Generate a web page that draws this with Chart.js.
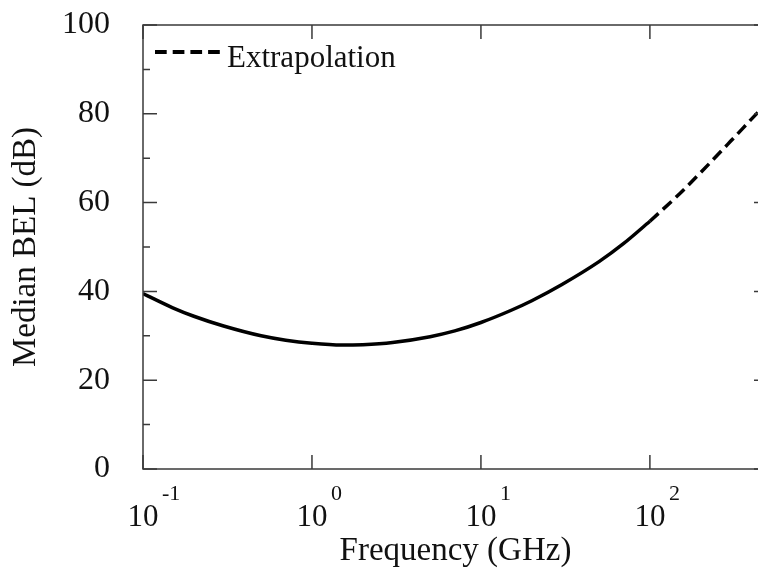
<!DOCTYPE html>
<html>
<head>
<meta charset="utf-8">
<script src="https://cdn.jsdelivr.net/npm/chart.js@4.4.1/dist/chart.umd.min.js"></script>
<style>
  html, body { margin: 0; padding: 0; background: #fff; overflow: hidden; }
  #wrap { width: 758px; height: 573px; overflow: hidden; }
</style>
</head>
<body>
<div id="wrap"><canvas id="bel-chart" width="770" height="573"></canvas></div>
<script>

// measured median BEL (solid part)
const freqMeasured = [0.1, 0.15, 0.2, 0.3, 0.5, 0.7, 1, 1.5, 2, 3, 5, 7, 10, 15, 20, 30, 50, 70, 100];
const belMeasured  = [39.5, 36.3, 34.4, 32.2, 30.0, 29.0, 28.3, 27.9, 28.0, 28.5, 29.8, 31.1, 33.0, 35.7, 37.9, 41.5, 46.7, 50.8, 55.8];

// extrapolated part (dashed)
const freqExtrap = [100, 150, 200, 300, 430, 500];
const belExtrap  = [55.8, 62.0, 66.8, 73.8, 80.1, 82.7];

// axis ticks
const xDecades = [0.1, 1, 10, 100];
const xExponents = ['-1', '0', '1', '2'];
const yTickValues = [0, 10, 20, 30, 40, 50, 60, 70, 80, 90, 100];
const yLabelValues = [0, 20, 40, 60, 80, 100];

const serif = '"Liberation Serif", "Times New Roman", serif';

function toPoints(xs, ys) {
    let pts = [];
    for (let i = 0; i < xs.length; ++i) {
        pts.push({x: xs[i], y: ys[i]});
    }
    return pts;
}

// box frame, inward ticks, 10^n labels and the in-plot legend
const frameAndTicks = {
    id: 'frameAndTicks',
    afterDraw(chart) {
        const ctx = chart.ctx;
        const {left, right, top, bottom} = chart.chartArea;
        const xs = chart.scales.x;
        const ys = chart.scales.y;

        ctx.save();
        ctx.strokeStyle = '#3a3a3a';
        ctx.lineWidth = 1.5;
        ctx.strokeRect(left, top, right - left, bottom - top);

        ctx.beginPath();
        xDecades.forEach(v => {
            const px = xs.getPixelForValue(v);
            ctx.moveTo(px, bottom);
            ctx.lineTo(px, bottom - 14);
            ctx.moveTo(px, top);
            ctx.lineTo(px, top + 14);
        });
        yTickValues.forEach(v => {
            const py = ys.getPixelForValue(v);
            const len = yLabelValues.includes(v) ? 14 : 7;
            ctx.moveTo(left, py);
            ctx.lineTo(left + len, py);
            ctx.moveTo(right, py);
            ctx.lineTo(right - len, py);
        });
        ctx.stroke();

        ctx.fillStyle = '#111';
        ctx.textBaseline = 'alphabetic';
        xDecades.forEach((v, i) => {
            const px = xs.getPixelForValue(v);
            ctx.font = '31px ' + serif;
            ctx.textAlign = 'center';
            ctx.fillText('10', px, bottom + 57);
            ctx.font = '22px ' + serif;
            ctx.textAlign = 'left';
            ctx.fillText(xExponents[i], px + 19, bottom + 31);
        });

        const ext = chart.data.datasets[1];
        ctx.strokeStyle = ext.borderColor;
        ctx.lineWidth = 4;
        ctx.setLineDash(ext.borderDash);
        ctx.beginPath();
        ctx.moveTo(left + 12, top + 27);
        ctx.lineTo(left + 77, top + 27);
        ctx.stroke();
        ctx.setLineDash([]);
        ctx.font = '31px ' + serif;
        ctx.textAlign = 'left';
        ctx.fillText(ext.label, left + 84, top + 42);
        ctx.restore();
    }
};

const data = {
    datasets: [
        {
            label: 'Median BEL',
            data: toPoints(freqMeasured, belMeasured),
            borderColor: '#000',
            borderWidth: 3.5,
            pointRadius: 0,
            cubicInterpolationMode: 'monotone',
        },
        {
            label: 'Extrapolation',
            data: toPoints(freqExtrap, belExtrap),
            borderColor: '#000',
            borderWidth: 3.5,
            borderDash: [11.7, 6],
            pointRadius: 0,
            cubicInterpolationMode: 'monotone',
        }
    ]
};

const config = {
    type: 'line',
    data: data,
    plugins: [frameAndTicks],
    options: {
        responsive: false,
        animation: false,
        layout: {
            padding: {top: 25, right: 2, left: 0, bottom: 0}
        },
        plugins: {
            legend: {display: false},
            tooltip: {enabled: false}
        },
        scales: {
            x: {
                type: 'logarithmic',
                min: 0.1,
                max: 500,
                grid: {display: false},
                border: {display: false},
                ticks: {display: false},
                afterBuildTicks: scale => {
                    scale.ticks = xDecades.map(v => ({value: v}));
                },
                afterFit: scale => {
                    scale.height = 104;
                    scale.paddingLeft = 0;
                    scale.paddingRight = 0;
                },
                title: {
                    display: true,
                    text: 'Frequency (GHz)',
                    color: '#111',
                    font: {family: serif, size: 33, lineHeight: 1},
                    padding: {top: 0, bottom: 5}
                }
            },
            y: {
                min: 0,
                max: 100,
                grid: {display: false, drawTicks: false},
                border: {display: false},
                afterBuildTicks: scale => {
                    scale.ticks = yTickValues.map(v => ({value: v}));
                },
                afterFit: scale => {
                    scale.width = 143;
                    scale.paddingTop = 0;
                    scale.paddingBottom = 0;
                },
                ticks: {
                    padding: 33,
                    color: '#111',
                    font: {family: serif, size: 32},
                    callback: v => yLabelValues.includes(v) ? String(v) : ''
                },
                title: {
                    display: true,
                    text: 'Median BEL (dB)',
                    color: '#111',
                    font: {family: serif, size: 33, lineHeight: 1},
                    padding: {top: 10, bottom: 0}
                }
            }
        }
    }
};

let belChart = new Chart('bel-chart', config);
</script>
</body>
</html>
